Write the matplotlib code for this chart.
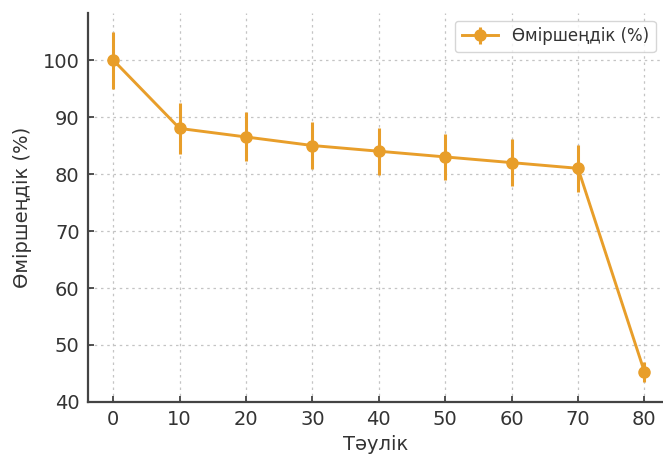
import matplotlib
matplotlib.use("Agg")
import matplotlib.pyplot as plt

days = [0, 10, 20, 30, 40, 50, 60, 70, 80]
survival = [100, 88, 86.5, 85, 84, 83, 82, 81, 45.3]
errors = [5.0, 4.4, 4.3, 4.2, 4.1, 4.1, 4.1, 4.1, 1.8]
x_ticks = [0, 10, 20, 30, 40, 50, 60, 70, 80]
y_ticks = [40, 50, 60, 70, 80, 90, 100]

color = "#E89E2A"
plt.rcParams["font.family"] = ["DejaVu Sans"]

fig = plt.figure(figsize=(6.63, 4.55), dpi=100)
ax = fig.add_axes([0.1327, 0.1165, 0.8673, 0.8549])

ax.errorbar(days, survival, yerr=errors, color=color, ecolor=color,
            marker="o", markersize=8, linewidth=2.1, elinewidth=2.2,
            capsize=0, label="Өміршеңдік (%)")

ax.set_xlim(-3.8, 82.8)
ax.set_ylim(40, 108.25)
ax.set_xticks(x_ticks)
ax.set_yticks(y_ticks)
ax.tick_params(labelsize=14, colors="#333333", length=4, width=1.2,
               direction="in", pad=6)
ax.grid(True, linestyle=(0, (2, 3)), color="#c4c4c4", linewidth=0.9)
ax.set_axisbelow(True)
for s in ["top", "right"]:
    ax.spines[s].set_visible(False)
for s in ["left", "bottom"]:
    ax.spines[s].set_color("#444444")
    ax.spines[s].set_linewidth(1.6)

ax.set_xlabel("Тәулік", fontsize=14, color="#333333", labelpad=4)
ax.set_ylabel("Өміршеңдік (%)", fontsize=14, color="#333333", labelpad=8)

leg = ax.legend(loc="upper right", fontsize=12, frameon=True,
                borderaxespad=0.45, handlelength=2.2)
leg.get_frame().set_edgecolor("#cccccc")
for t in leg.get_texts():
    t.set_color("#333333")

fig.savefig("out.png", dpi=100)
